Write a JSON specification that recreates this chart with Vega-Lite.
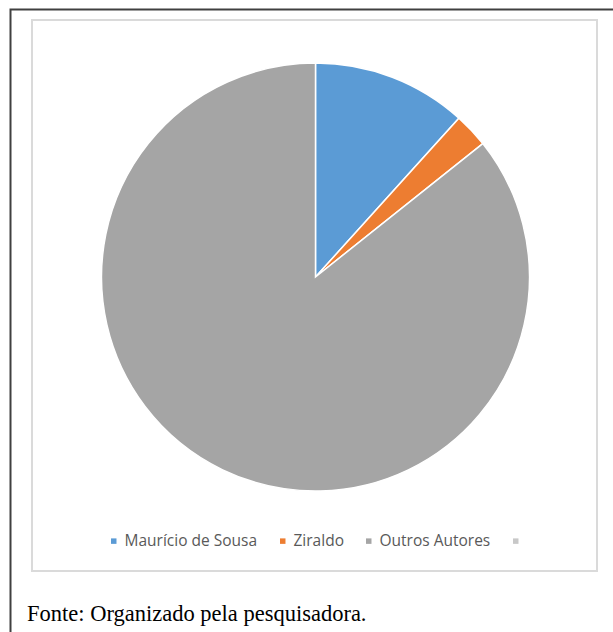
{
  "$schema": "https://vega.github.io/schema/vega-lite/v6.json",
  "autosize": {"type": "none"},
  "width": 565,
  "height": 551,
  "padding": {"left": 32, "top": 20, "right": 16, "bottom": 61},
  "background": "white",
  "title": {
    "text": "Fonte: Organizado pela pesquisadora.",
    "orient": "bottom",
    "anchor": "start",
    "frame": "group",
    "offset": -32,
    "dx": -5,
    "font": "Liberation Serif",
    "fontSize": 22.5,
    "fontWeight": "normal",
    "color": "#000000"
  },
  "config": {
    "view": {"stroke": null}
  },
  "layer": [
    {
      "data": {"values": [{}]},
      "mark": {
        "type": "rect",
        "filled": false,
        "stroke": "#dadada",
        "strokeWidth": 2
      },
      "encoding": {}
    },
    {
      "data": {"values": [{}]},
      "mark": {
        "type": "rect",
        "filled": false,
        "stroke": "#404040",
        "strokeWidth": 2,
        "x": -21.5,
        "x2": {"expr": "width + 18"},
        "y": -10.5,
        "y2": {"expr": "height + 63"}
      },
      "encoding": {}
    },
    {
      "data": {
        "values": [
          {"autor": "Maurício de Sousa", "valor": 9, "ordem": 1},
          {"autor": "Ziraldo", "valor": 2, "ordem": 2},
          {"autor": "Outros Autores", "valor": 66, "ordem": 3}
        ]
      },
      "mark": {
        "type": "arc",
        "outerRadius": 214,
        "stroke": "white",
        "strokeWidth": 1.5,
        "xOffset": 1,
        "yOffset": -18.5
      },
      "encoding": {
        "theta": {"field": "valor", "type": "quantitative", "stack": true},
        "order": {"field": "ordem", "type": "quantitative"},
        "color": {
          "field": "autor",
          "type": "nominal",
          "scale": {
            "domain": ["Maurício de Sousa", "Ziraldo", "Outros Autores", " "],
            "range": ["#5b9bd5", "#ed7d31", "#a5a5a5", "#c8c8c8"]
          },
          "legend": {
            "title": null,
            "orient": "none",
            "direction": "horizontal",
            "legendX": 74,
            "legendY": 513,
            "symbolType": "square",
            "symbolSize": 30,
            "symbolStrokeWidth": 0,
            "labelFont": "Open Sans",
            "labelFontSize": 15.5,
            "labelColor": "#595959",
            "labelOffset": 3,
            "columnPadding": 17
          }
        }
      }
    }
  ]
}
